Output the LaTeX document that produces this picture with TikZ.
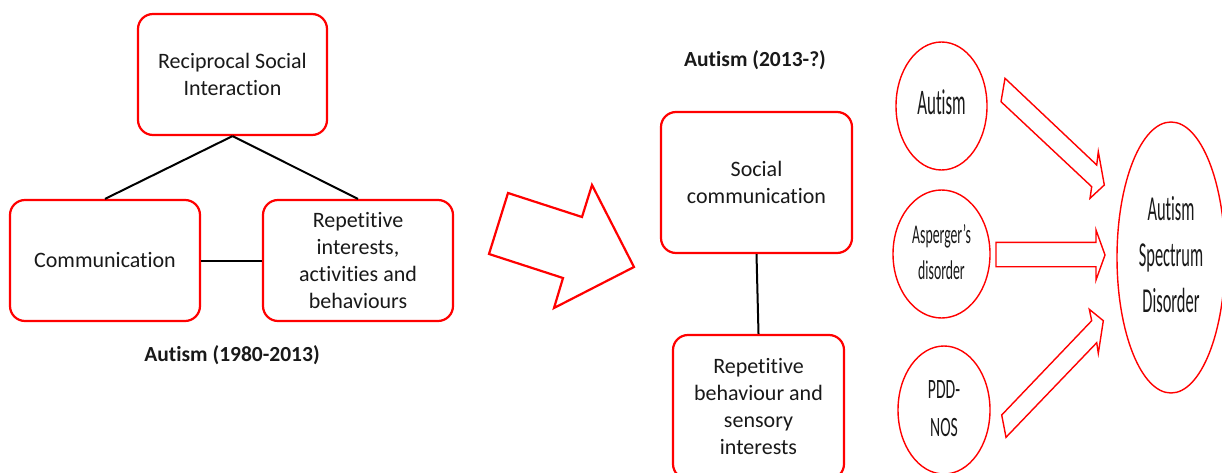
\documentclass[tikz,border=0pt]{standalone}
\usepackage{fontspec}
\setmainfont{Carlito}[RawFeature=-liga]
\usepackage{graphicx}
\usetikzlibrary{shapes.geometric}

% condensed multi-line label: #1 = horizontal factor, #2 = lines
\newcommand\slimlabel[2]{\scalebox{#1}[1]{\begin{tabular}{@{}c@{}}#2\end{tabular}}}

\tikzset{
  box/.style={draw=red, line width=2.2pt, rounded corners=15pt, fill=white,
              align=center, inner sep=0pt, text=black!90,
              font=\fontsize{22}{27}\selectfont},
  ring/.style={ellipse, draw=red, line width=1.4pt, inner sep=0pt, text=black!90},
  blockarrow/.style={draw=red, line width=1.4pt, line join=miter},
  bigarrow/.style={draw=red, line width=2.2pt, line join=miter},
  link/.style={draw=black, line width=2pt},
  caption/.style={font=\bfseries\fontsize{21.5}{26}\selectfont, text=black!90}
}

\begin{document}
\begin{tikzpicture}[x=1pt, y=-1pt]
  \useasboundingbox (0,0) rectangle (1222,473);
  \clip (0,0) rectangle (1222,473);

  % ---- DSM-III/IV triad ----
  \node[box, minimum width=189pt, minimum height=121pt] (rsi) at (232.5,74.5)
       {Reciprocal Social\\Interaction};
  \node[box, minimum width=190pt, minimum height=121pt] (comm) at (105,260.5)
       {Communication};
  \node[box, minimum width=190pt, minimum height=121pt] (rep) at (358,260.5)
       {Repetitive\\interests,\\activities and\\behaviours};
  \draw[link] (rsi.south) -- (comm.north);
  \draw[link] (rsi.south) -- (rep.north);
  \draw[link] (comm.east) -- (rep.west);
  \node[caption] (oldcap) at (232,355) {Autism (1980-2013)};

  % ---- transition arrow ----
  \draw[bigarrow] (508,193) -- (582,217) -- (592,185) -- (634,267)
                  -- (554,308) -- (563,278) -- (489,254) -- cycle;

  % ---- DSM-5 dyad ----
  \node[caption] (newcap) at (755,60) {Autism (2013-?)};
  \node[box, minimum width=191pt, minimum height=141pt] (soc) at (756.5,182.5)
       {Social\\communication};
  \node[box, minimum width=171pt, minimum height=144pt] (rbs) at (758.5,407)
       {Repetitive\\behaviour and\\sensory\\interests};
  \draw[link] (soc.south) -- (rbs.north);

  % ---- merged diagnoses ----
  \node[ring, minimum width=91pt, minimum height=128pt] (aut) at (941.5,106)
       {\fontsize{36}{43}\selectfont\slimlabel{0.47}{Autism}};
  \node[ring, minimum width=97pt, minimum height=128pt] (asp) at (941.5,254)
       {\fontsize{27}{36}\selectfont\slimlabel{0.51}{Asperger’s\\disorder}};
  \node[ring, minimum width=92pt, minimum height=128pt] (pdd) at (944,410)
       {\fontsize{28}{38}\selectfont\slimlabel{0.56}{PDD-\\NOS}};
  \node[ring, minimum width=108pt, minimum height=271pt] (asd) at (1171,257.5)
       {\fontsize{35}{46}\selectfont\slimlabel{0.47}{Autism\\Spectrum\\Disorder}};

  % block arrows into the spectrum
  \draw[blockarrow] (1005,78.3) -- (1096.7,165) -- (1098.3,151.7) -- (1104.3,185)
                    -- (1090,198.3) -- (1091.7,186.7) -- (1001,101.7) -- cycle;
  \draw[blockarrow] (996,242.3) -- (1096,242.3) -- (1096,230) -- (1105,255)
                    -- (1096,280) -- (1096,266.7) -- (996,266.7) -- cycle;
  \draw[blockarrow] (1001.7,415) -- (1091.7,320.7) -- (1089.3,309.3) -- (1103.3,320.7)
                    -- (1098.3,353.3) -- (1096.7,342.7) -- (1006,437.3) -- cycle;
\end{tikzpicture}
\end{document}
